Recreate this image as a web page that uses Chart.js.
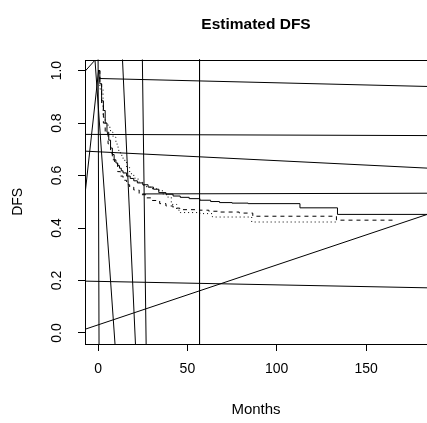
<!DOCTYPE html>
<html>
<head>
<meta charset="utf-8">
<script src="https://cdn.jsdelivr.net/npm/chart.js@4.4.0/dist/chart.umd.min.js"></script>
<style>
html, body { margin: 0; padding: 0; background: #fff; }
</style>
</head>
<body>
<canvas id="myChart" width="427" height="423"></canvas>
<script>
// estimated DFS curves (months, survival)
var solidMonths = [0, 1, 2, 3, 4, 5, 6, 7, 8, 9, 10, 11, 12, 13, 14, 16, 18, 20, 22, 25, 28, 31, 34, 38, 42, 46, 51, 57, 63, 68, 75, 84, 113, 134, 185];
var solidDFS = [1.0, 0.95, 0.885, 0.848, 0.80, 0.765, 0.735, 0.705, 0.68, 0.66, 0.648, 0.638, 0.628, 0.618, 0.61, 0.598, 0.589, 0.58, 0.572, 0.565, 0.556, 0.548, 0.535, 0.529, 0.522, 0.517, 0.512, 0.506, 0.501, 0.497, 0.495, 0.493, 0.477, 0.452, 0.452];

var dashMonths = [0, 1, 2, 3, 4, 5.6, 7, 8, 9.3, 11, 12.5, 14, 16, 17.7, 20, 23, 27, 30, 34.5, 38, 42, 45.7, 56.9, 62, 68, 79, 86.6, 133.4, 167];
var dashDFS = [1.0, 0.949, 0.87, 0.80, 0.76, 0.721, 0.685, 0.66, 0.645, 0.615, 0.598, 0.582, 0.565, 0.556, 0.545, 0.527, 0.515, 0.505, 0.493, 0.484, 0.476, 0.470, 0.468, 0.464, 0.461, 0.457, 0.445, 0.430, 0.430];

var dotMonths = [0, 1, 2.8, 4, 5.6, 7, 8.4, 10, 11.2, 12.5, 14, 16, 17.7, 20, 22.4, 25, 27.1, 30, 32.7, 36, 38.3, 41, 44, 46, 57, 64, 86, 134];
var dotDFS = [1.0, 0.93, 0.822, 0.80, 0.784, 0.765, 0.746, 0.72, 0.696, 0.677, 0.658, 0.63, 0.607, 0.59, 0.575, 0.563, 0.556, 0.55, 0.544, 0.53, 0.518, 0.49, 0.468, 0.459, 0.455, 0.442, 0.423, 0.423];

// straight lines drawn over the plot (start and end points)
var segX1 = [-10, -1.7, -10, 0.6, -10, -10, 24.8, -10, -10, 0, 13.3, 24.7, 56.8];
var segY1 = [0.977, 1.04, 0.36, 0.970, 0.757, 0.694, 0.530, 0.198, 0.008, 1.1, 1.1, 1.1, 1.1];
var segX2 = [-1.7, 10.5, 0.3, 200, 200, 200, 200, 200, 200, 0.6, 21.6, 27.1, 56.8];
var segY2 = [1.04, -0.139, 1.0, 0.937, 0.752, 0.623, 0.533, 0.170, 0.488, -0.14, -0.14, -0.14, -0.14];

var xTicks = [0, 50, 100, 150];
var yTicks = [0.0, 0.2, 0.4, 0.6, 0.8, 1.0];

function toPoints(xs, ys) {
    var pts = [];
    for (var i = 0; i < xs.length; i++) {
        pts.push({ x: xs[i], y: ys[i] });
    }
    return pts;
}

function DrawChart() {
    Chart.defaults.font.family = "'Liberation Sans', Arial, Helvetica, sans-serif";
    Chart.defaults.color = '#000';

    var datasets = [];
    for (var i = 0; i < segX1.length; i++) {
        datasets.push({
            data: [{ x: segX1[i], y: segY1[i] }, { x: segX2[i], y: segY2[i] }],
            borderColor: '#000',
            borderWidth: 1,
            pointRadius: 0,
            fill: false
        });
    }
    datasets.push({
        label: 'solid',
        data: toPoints(solidMonths, solidDFS),
        borderColor: '#000',
        borderWidth: 1,
        pointRadius: 0,
        stepped: true,
        fill: false
    });
    datasets.push({
        label: 'dashed',
        data: toPoints(dashMonths, dashDFS),
        borderColor: '#000',
        borderWidth: 1,
        borderDash: [4, 4],
        pointRadius: 0,
        stepped: true,
        fill: false
    });
    datasets.push({
        label: 'dotted',
        data: toPoints(dotMonths, dotDFS),
        borderColor: '#000',
        borderWidth: 1,
        borderDash: [1, 3],
        pointRadius: 0,
        stepped: true,
        fill: false
    });

    var boxPlugin = {
        id: 'box',
        afterDatasetsDraw: function (chart) {
            var a = chart.chartArea;
            var ctx = chart.ctx;
            ctx.save();
            ctx.strokeStyle = '#000';
            ctx.lineWidth = 1;
            ctx.strokeRect(Math.round(a.left) + 0.5, Math.round(a.top) + 0.5,
                Math.round(a.right - a.left), Math.round(a.bottom - a.top));
            ctx.restore();
        }
    };

    var ctx = document.getElementById('myChart').getContext('2d');
    var myChart = new Chart(ctx, {
        type: 'line',
        data: { datasets: datasets },
        options: {
            responsive: false,
            animation: false,
            layout: { padding: 0 },
            plugins: {
                legend: { display: false },
                tooltip: { enabled: false },
                title: {
                    display: true,
                    text: 'Estimated DFS',
                    fullSize: false,
                    color: '#000',
                    font: { size: 15.5, weight: 'bold' },
                    padding: { top: 15, bottom: 26 }
                }
            },
            scales: {
                x: {
                    type: 'linear',
                    min: -7.3,
                    max: 184.1,
                    afterFit: function (s) { s.height = 79; },
                    afterBuildTicks: function (s) {
                        s.ticks = xTicks.map(function (v) { return { value: v }; });
                    },
                    ticks: { font: { size: 14 }, padding: 10, color: '#000', maxRotation: 0, autoSkip: false },
                    grid: { drawOnChartArea: false, drawTicks: true, tickLength: 7, color: '#000' },
                    border: { display: false },
                    title: { display: true, text: 'Months', font: { size: 15 }, color: '#000', padding: { top: 0, bottom: 4 } }
                },
                y: {
                    type: 'linear',
                    min: -0.042,
                    max: 1.042,
                    afterFit: function (s) { s.width = 85; },
                    afterBuildTicks: function (s) {
                        s.ticks = yTicks.map(function (v) { return { value: v }; });
                    },
                    ticks: {
                        font: { size: 14 },
                        color: '#000',
                        padding: 11,
                        minRotation: 90,
                        maxRotation: 90,
                        crossAlign: 'center',
                        autoSkip: false,
                        callback: function (v) { return Number(v).toFixed(1); }
                    },
                    grid: { drawOnChartArea: false, drawTicks: true, tickLength: 7, color: '#000' },
                    border: { display: false },
                    title: { display: true, text: 'DFS', font: { size: 14 }, color: '#000', padding: { top: 10, bottom: 0 } }
                }
            }
        },
        plugins: [boxPlugin]
    });
}

DrawChart();
</script>
</body>
</html>
